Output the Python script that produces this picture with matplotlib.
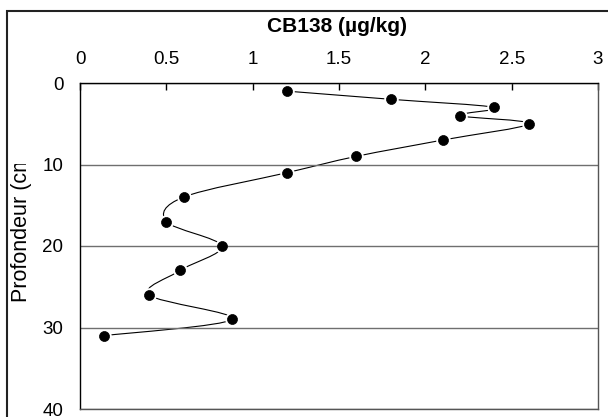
import matplotlib
matplotlib.use("Agg")
import matplotlib.pyplot as plt
from matplotlib.path import Path
from matplotlib.patches import PathPatch, Rectangle
from matplotlib.transforms import Bbox
import numpy as np

# ---- data ----
concentration = [1.2, 1.8, 2.4, 2.2, 2.6, 2.1, 1.6, 1.2, 0.6, 0.5, 0.82, 0.58, 0.4, 0.88, 0.14]
depth = [1, 2, 3, 4, 5, 7, 9, 11, 14, 17, 20, 23, 26, 29, 31]
x_ticks = [0, 0.5, 1, 1.5, 2, 2.5, 3]
x_tick_labels = ["0", "0.5", "1", "1.5", "2", "2.5", "3"]
y_ticks = [0, 10, 20, 30, 40]
title = "CB138 (µg/kg)"
ylabel = "Profondeur (cm)"

plt.rcParams['font.family'] = ['Liberation Sans', 'DejaVu Sans']

W, H = 608, 417
fig = plt.figure(figsize=(W / 100, H / 100), dpi=100)
ax = fig.add_axes([80 / W, 1 - 409 / H, (598 - 80) / W, (409 - 83) / H])

ax.set_xlim(0, 3)
ax.set_ylim(40, 0)
ax.xaxis.tick_top()
ax.set_xticks(x_ticks)
ax.set_xticklabels(x_tick_labels)
ax.set_yticks(y_ticks)
ax.tick_params(axis='x', direction='in', length=5, width=1, pad=10.5, labelsize=13.5, color='black')
ax.tick_params(axis='y', direction='in', length=0, pad=12, labelsize=13.5)

ax.set_axisbelow('line')
ax.yaxis.grid(True, color='#6f6f6f', linewidth=1.0)
ax.xaxis.grid(False)
for s in ['left', 'top']:
    ax.spines[s].set_color('black')
    ax.spines[s].set_linewidth(1.0)
for s in ['right', 'bottom']:
    ax.spines[s].set_color('#555555')
    ax.spines[s].set_linewidth(1.0)

# smoothed line (Catmull-Rom Bezier, like Excel's smoothed line)
pts = np.column_stack([concentration, depth]).astype(float)
n = len(pts)
verts = [tuple(pts[0])]
codes = [Path.MOVETO]
for i in range(n - 1):
    p0 = pts[i - 1] if i > 0 else pts[i]
    p1 = pts[i]
    p2 = pts[i + 1]
    p3 = pts[i + 2] if i + 2 < n else pts[i + 1]
    c1 = p1 + (p2 - p0) / 6.0
    c2 = p2 - (p3 - p1) / 6.0
    verts += [tuple(c1), tuple(c2), tuple(p2)]
    codes += [Path.CURVE4] * 3
patch = PathPatch(Path(verts, codes), facecolor='none', edgecolor='black',
                  linewidth=0.8, zorder=1.0, transform=ax.transData)
ax.add_patch(patch)

# white halo then black markers
ax.plot(concentration, depth, linestyle='none', marker='o', markersize=10.5,
        markerfacecolor='white', markeredgecolor='none', zorder=1.2)
ax.plot(concentration, depth, linestyle='none', marker='o', markersize=7.2,
        markerfacecolor='black', markeredgecolor='black', markeredgewidth=0.5, zorder=3)

# title
fig.text(337 / W, 1 - 27 / H, title, ha='center', va='center',
         fontsize=15, fontweight='bold')

# y label, clipped like the original
fs_y = 15.5
yl = fig.text(22 / W, 1 - 302 / H, ylabel, rotation=90, ha='center', va='bottom',
              fontsize=fs_y)
fig.canvas.draw()
r = fig.canvas.get_renderer()
probe = fig.text(0, 0, "Profondeur (c", fontsize=fs_y)
probe_m = fig.text(0, 0, "m", fontsize=fs_y)
w_c = probe.get_window_extent(r).width
w_m = probe_m.get_window_extent(r).width
probe.remove()
probe_m.remove()
y0 = (H - 302)
clip_top = y0 + w_c + 0.45 * w_m
yl.set_clip_box(Bbox.from_extents(0, 0, W, clip_top))
yl.set_clip_on(True)

# outer chart frame (cut at right and bottom)
frame = Rectangle((7 / W, -0.1), 1.2, 1 - 11 / H + 0.1, transform=fig.transFigure,
                  facecolor='none', edgecolor='#222222', linewidth=1.5, clip_on=False)
fig.patches.append(frame)

fig.savefig('out.png', dpi=100)
